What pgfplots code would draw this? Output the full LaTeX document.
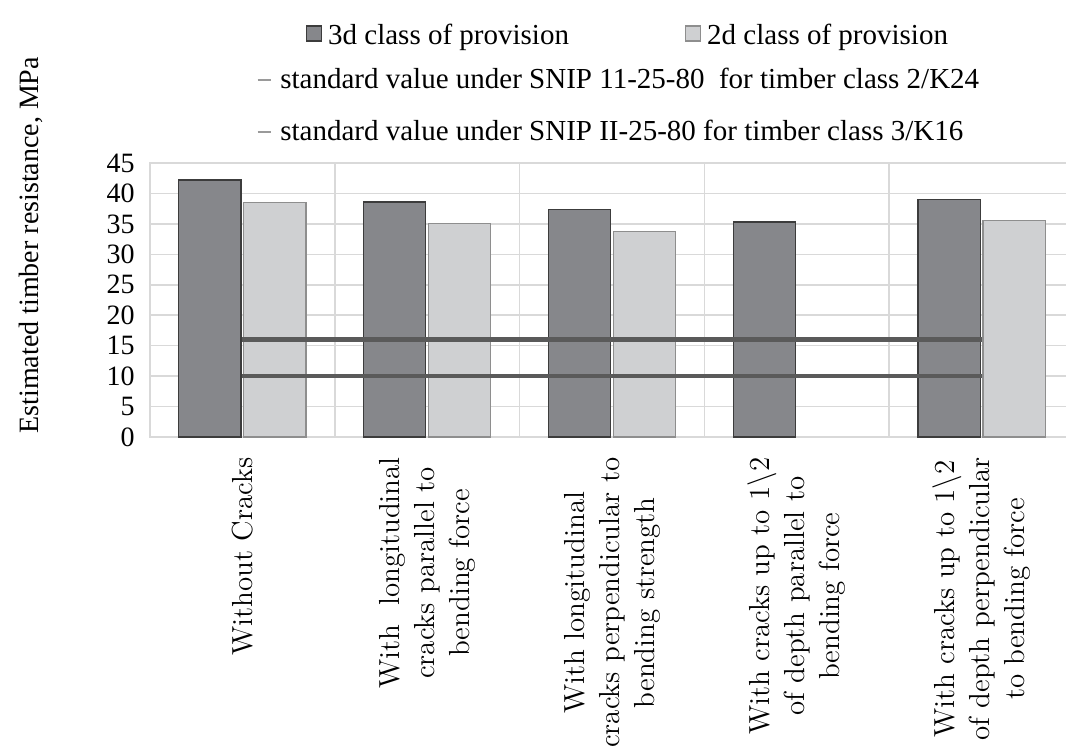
\documentclass[border=0pt]{standalone}
\usepackage{pgfplots}
\pgfplotsset{compat=1.18}
\usepackage{fontspec}
\newfontfamily\tnr{Liberation Serif}
\definecolor{bardark}{HTML}{86878B}
\definecolor{bardarkedge}{HTML}{3C3C3C}
\definecolor{barlight}{HTML}{CFD0D2}
\definecolor{barlightedge}{HTML}{8E8E8E}
\definecolor{stdline}{HTML}{5A5A5A}
\definecolor{gridc}{HTML}{D9D9D9}
\definecolor{dashc}{HTML}{9A9A9A}
\pgfplotsset{
  sqleg/.style={legend image code/.code={\path[draw=none,fill=none] (0pt,-3.5pt) rectangle (0pt,10.5pt);\draw[##1, line width=0.6pt] (0pt,-2pt) rectangle (7.5pt,5.5pt);}},
  dashleg/.style={legend image code/.code={\path[draw=none,fill=none] (0pt,-3.5pt) rectangle (0pt,10.5pt);\draw[dashc, line width=0.7pt] (0pt,1pt) -- (6.5pt,1pt);}},
}
\begin{document}
\begin{tikzpicture}
\begin{axis}[
  at={(0pt,0pt)}, anchor=south west,
  scale only axis, width=462pt, height=137pt,
  xmin=-0.5, xmax=4.5, ymin=0, ymax=45,
  axis line style={draw=gridc, line width=0.75pt},
  xtick={0,1,2,3,4},
  minor xtick={0.5,1.5,2.5,3.5},
  xminorgrids=true, xmajorgrids=false, ymajorgrids=true,
  grid style={draw=gridc, line width=0.75pt},
  minor grid style={draw=gridc, line width=0.75pt},
  major tick length=0pt, minor tick length=0pt,
  ytick={0,5,...,45},
  /pgf/number format/assume math mode=true,
  yticklabel style={font=\tnr\fontsize{14}{16}\selectfont, inner sep=0pt, xshift=-7.5pt},
  xticklabels={
    {Without Cracks},
    {With\ \ longitudinal\\cracks parallel to\\bending force},
    {With longitudinal\\cracks perpendicular to\\bending strength},
    {With cracks up to 1\textbackslash 2\\of depth parallel to\\bending force},
    {With cracks up to 1\textbackslash 2\\of depth perpendicular\\to bending force}},
  xticklabel style={font=\fontsize{14.5}{17.5}\selectfont, align=center, rotate=90, anchor=east, inner sep=0pt},
  xticklabel shift=10pt,
  every axis y label/.style={at={(axis description cs:-0.129,0.70)}, rotate=90, anchor=center},
  ylabel={\tnr\fontsize{14}{16}\selectfont Estimated timber resistance, MPa},
  legend columns=2,
  legend style={draw=none, fill=none, inner sep=0pt, outer sep=0pt,
    at={(axis description cs:0.1688,1.5365)}, anchor=north west,
    font=\tnr\fontsize{14.5}{16}\selectfont,
    nodes={inner sep=0pt, text height=10.5pt, text depth=3.5pt},
    /tikz/every odd column/.append style={column sep=3pt},
    /tikz/every even column/.append style={column sep=58pt}},
]
\addplot[ybar, bar width=0.336, bar shift=-0.176, fill=bardark, draw=bardarkedge, line width=0.6pt, sqleg]
  coordinates {(0,42.2) (1,38.6) (2,37.4) (3,35.3) (4,39.0)};
\addlegendentry{3d class of provision}
\addplot[ybar, bar width=0.336, bar shift=0.176, fill=barlight, draw=barlightedge, line width=0.6pt, sqleg]
  coordinates {(0,38.5) (1,35.1) (2,33.8) (4,35.5)};
\addlegendentry{2d class of provision}
\addplot[forget plot, stdline, line width=2.3pt, mark=none]
  coordinates {(0,16) (1,16) (2,16) (3,16) (4,16)};
\addplot[forget plot, stdline, line width=2.3pt, mark=none]
  coordinates {(0,10) (1,10) (2,10) (3,10) (4,10)};
\end{axis}
\begin{axis}[
  at={(0pt,0pt)}, anchor=south west,
  scale only axis, width=462pt, height=137pt,
  xmin=0, xmax=1, ymin=0, ymax=1, hide axis,
  legend cell align=left,
  legend style={draw=none, fill=none, inner sep=0pt, outer sep=0pt,
    at={(axis description cs:0.1158,1.3723)}, anchor=north west,
    font=\tnr\fontsize{14.5}{16}\selectfont,
    nodes={inner sep=0pt, text height=10.5pt, text depth=3.5pt},
    row sep=8.5pt,
    /tikz/every odd column/.append style={column sep=4.5pt}},
]
\addlegendimage{dashleg}
\addlegendentry{standard value under SNIP 11-25-80\ \ for timber class 2/K24}
\addlegendimage{dashleg}
\addlegendentry{standard value under SNIP II-25-80 for timber class 3/K16}
\end{axis}
\pgfresetboundingbox
\path[use as bounding box] (-75pt,-154pt) rectangle (458pt,218.5pt);
\end{tikzpicture}
\end{document}
